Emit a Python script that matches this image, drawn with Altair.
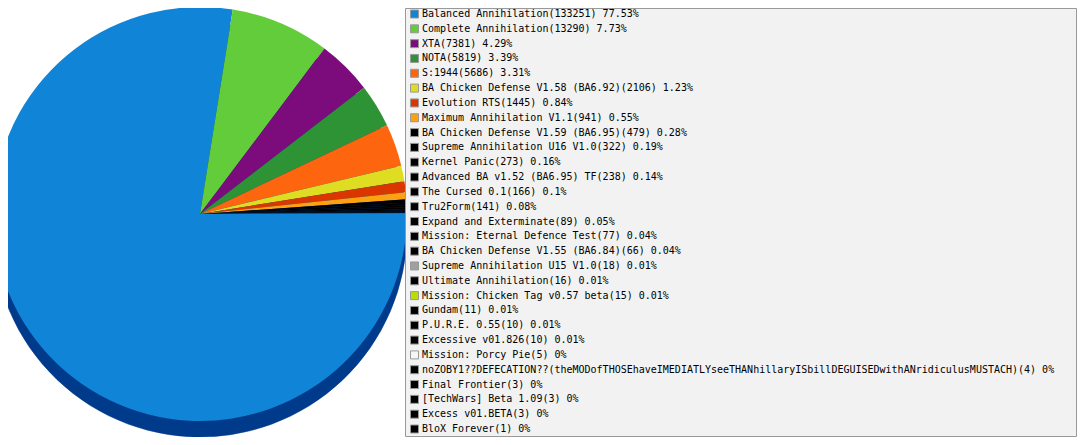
import math
import altair as alt
import pandas as pd

names = [
    "Balanced Annihilation", "Complete Annihilation", "XTA", "NOTA", "S:1944",
    "BA Chicken Defense V1.58 (BA6.92)", "Evolution RTS", "Maximum Annihilation V1.1",
    "BA Chicken Defense V1.59 (BA6.95)", "Supreme Annihilation U16 V1.0", "Kernel Panic",
    "Advanced BA v1.52 (BA6.95) TF", "The Cursed 0.1", "Tru2Form", "Expand and Exterminate",
    "Mission: Eternal Defence Test", "BA Chicken Defense V1.55 (BA6.84)",
    "Supreme Annihilation U15 V1.0", "Ultimate Annihilation", "Mission: Chicken Tag v0.57 beta",
    "Gundam", "P.U.R.E. 0.55", "Excessive v01.826", "Mission: Porcy Pie",
    "noZOBY1??DEFECATION??(theMODofTHOSEhaveIMEDIATLYseeTHANhillaryISbillDEGUISEDwithANridiculusMUSTACH)",
    "Final Frontier", "[TechWars] Beta 1.09", "Excess v01.BETA", "BloX Forever",
]
counts = [133251, 13290, 7381, 5819, 5686, 2106, 1445, 941, 479, 322, 273, 238, 166, 141,
          89, 77, 66, 18, 16, 15, 11, 10, 10, 5, 4, 3, 3, 3, 1]
pcts = ["77.53%", "7.73%", "4.29%", "3.39%", "3.31%", "1.23%", "0.84%", "0.55%", "0.28%",
        "0.19%", "0.16%", "0.14%", "0.1%", "0.08%", "0.05%", "0.04%", "0.04%", "0.01%",
        "0.01%", "0.01%", "0.01%", "0.01%", "0.01%", "0%", "0%", "0%", "0%", "0%", "0%"]
colors = ["#1084d6", "#62cc3a", "#7c0c7c", "#2e9334", "#fd660e", "#dedd22", "#da3700",
          "#fca111", "#000000", "#000000", "#000000", "#000000", "#000000", "#000000",
          "#000000", "#000000", "#000000", "#a0a0a0", "#000000", "#bbdd00", "#000000",
          "#000000", "#000000", "#f6f6f6", "#000000", "#000000", "#000000", "#000000",
          "#000000"]

df = pd.DataFrame({
    "idx": list(range(len(names))),
    "name": names,
    "count": counts,
    "label": [f"{n}({c}) {p}" for n, c, p in zip(names, counts, pcts)],
})

cx, cy, R = 192, 206, 207
theta_scale = alt.Scale(range=[math.pi / 2, math.pi / 2 + 2 * math.pi])
color_scale = alt.Scale(domain=names, range=colors)

base = alt.Chart(df)

extrude = base.mark_arc(radius=R, color="#003a8a", stroke="#003a8a", strokeWidth=0.5).encode(
    theta=alt.Theta("count:Q", stack=True, scale=theta_scale),
    order=alt.Order("idx:Q"),
    x=alt.value(cx),
    y=alt.value(cy + 16),
)

pie = base.mark_arc(radius=R).encode(
    theta=alt.Theta("count:Q", stack=True, scale=theta_scale),
    order=alt.Order("idx:Q"),
    color=alt.Color("name:N", scale=color_scale, legend=None),
    x=alt.value(cx),
    y=alt.value(cy),
)

box = base.transform_filter("datum.idx == 0").mark_rect(
    fill="#f2f2f2", stroke="#999999", strokeWidth=1
).encode(
    x=alt.value(397.5), x2=alt.value(1068.5), y=alt.value(0.5), y2=alt.value(428.5)
)

yscale = alt.Scale(type="point", domain=names, range=[6, 421], padding=0)

squares = base.mark_square(size=64, stroke="#999999", strokeWidth=1, opacity=1).encode(
    x=alt.value(406.5),
    y=alt.Y("name:N", scale=yscale, axis=None),
    fill=alt.Color("name:N", scale=color_scale, legend=None),
)

texts = base.mark_text(
    align="left", baseline="middle", font="DejaVu Sans Mono", fontSize=10, color="#000000"
).encode(
    x=alt.value(414),
    y=alt.Y("name:N", scale=yscale, axis=None),
    text="label:N",
)

chart = alt.layer(extrude, pie, box, squares, texts).properties(
    width=1069, height=429,
    autosize=alt.AutoSizeParams(type="none"),
    padding=0,
    background="white",
).configure_view(stroke=None)

chart.save("out.html", embed_options={"renderer": "svg", "actions": False})
